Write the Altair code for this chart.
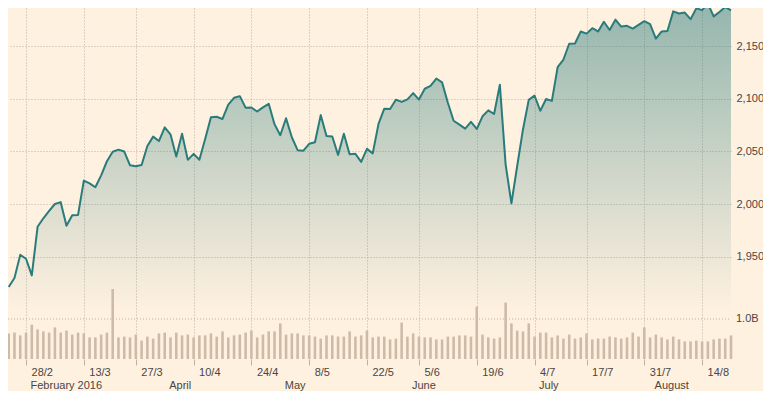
import json
import altair as alt
import pandas as pd

# ---- data (S&P 500 style index, trading days 23 Feb 2016 - 19 Aug 2016) ----
dates = [
    "2016-02-23", "2016-02-24", "2016-02-25", "2016-02-26", "2016-02-29",
    "2016-03-01", "2016-03-02", "2016-03-03", "2016-03-04", "2016-03-07",
    "2016-03-08", "2016-03-09", "2016-03-10", "2016-03-11", "2016-03-14",
    "2016-03-15", "2016-03-16", "2016-03-17", "2016-03-18", "2016-03-21",
    "2016-03-22", "2016-03-23", "2016-03-24", "2016-03-28", "2016-03-29",
    "2016-03-30", "2016-03-31", "2016-04-01", "2016-04-04", "2016-04-05",
    "2016-04-06", "2016-04-07", "2016-04-08", "2016-04-11", "2016-04-12",
    "2016-04-13", "2016-04-14", "2016-04-15", "2016-04-18", "2016-04-19",
    "2016-04-20", "2016-04-21", "2016-04-22", "2016-04-25", "2016-04-26",
    "2016-04-27", "2016-04-28", "2016-04-29", "2016-05-02", "2016-05-03",
    "2016-05-04", "2016-05-05", "2016-05-06", "2016-05-09", "2016-05-10",
    "2016-05-11", "2016-05-12", "2016-05-13", "2016-05-16", "2016-05-17",
    "2016-05-18", "2016-05-19", "2016-05-20", "2016-05-23", "2016-05-24",
    "2016-05-25", "2016-05-26", "2016-05-27", "2016-05-31", "2016-06-01",
    "2016-06-02", "2016-06-03", "2016-06-06", "2016-06-07", "2016-06-08",
    "2016-06-09", "2016-06-10", "2016-06-13", "2016-06-14", "2016-06-15",
    "2016-06-16", "2016-06-17", "2016-06-20", "2016-06-21", "2016-06-22",
    "2016-06-23", "2016-06-24", "2016-06-27", "2016-06-28", "2016-06-29",
    "2016-06-30", "2016-07-01", "2016-07-05", "2016-07-06", "2016-07-07",
    "2016-07-08", "2016-07-11", "2016-07-12", "2016-07-13", "2016-07-14",
    "2016-07-15", "2016-07-18", "2016-07-19", "2016-07-20", "2016-07-21",
    "2016-07-22", "2016-07-25", "2016-07-26", "2016-07-27", "2016-07-28",
    "2016-07-29", "2016-08-01", "2016-08-02", "2016-08-03", "2016-08-04",
    "2016-08-05", "2016-08-08", "2016-08-09", "2016-08-10", "2016-08-11",
    "2016-08-12", "2016-08-15", "2016-08-16", "2016-08-17", "2016-08-18",
    "2016-08-19",
]

close = [
    1921.27, 1929.80, 1951.70, 1948.05, 1932.23,
    1978.35, 1986.45, 1993.40, 1999.99, 2001.76,
    1979.26, 1989.26, 1989.57, 2022.19, 2019.64,
    2015.93, 2027.22, 2040.59, 2049.58, 2051.60,
    2049.80, 2036.71, 2035.94, 2037.05, 2055.01,
    2063.95, 2059.74, 2072.78, 2066.13, 2045.17,
    2066.66, 2041.91, 2047.60, 2041.99, 2061.72,
    2082.42, 2082.78, 2080.73, 2094.34, 2100.80,
    2102.40, 2091.48, 2091.58, 2087.79, 2091.70,
    2095.15, 2075.81, 2065.30, 2081.43, 2063.37,
    2051.12, 2050.63, 2057.14, 2058.69, 2084.39,
    2064.46, 2064.11, 2046.61, 2066.66, 2047.21,
    2047.63, 2040.04, 2052.32, 2048.04, 2076.06,
    2090.54, 2090.10, 2099.06, 2096.95, 2099.33,
    2105.26, 2099.13, 2109.41, 2112.13, 2119.12,
    2115.48, 2096.07, 2079.06, 2075.32, 2071.50,
    2077.99, 2071.22, 2083.25, 2088.90, 2085.45,
    2113.32, 2037.41, 2000.54, 2036.09, 2070.77,
    2098.86, 2102.95, 2088.55, 2099.73, 2097.90,
    2129.90, 2137.16, 2152.14, 2152.43, 2163.75,
    2161.74, 2166.89, 2163.78, 2173.02, 2165.17,
    2175.03, 2168.48, 2169.18, 2166.58, 2170.06,
    2173.60, 2170.84, 2157.03, 2163.79, 2164.25,
    2182.87, 2180.89, 2181.74, 2175.49, 2185.79,
    2184.05, 2190.15, 2178.15, 2182.22, 2187.02,
    2183.87,
]

volume_bn = [
    0.64, 0.66, 0.59, 0.66, 0.86, 0.74, 0.69, 0.66, 0.79, 0.66,
    0.71, 0.61, 0.66, 0.64, 0.54, 0.54, 0.61, 0.66, 1.75, 0.54,
    0.56, 0.54, 0.61, 0.46, 0.56, 0.51, 0.64, 0.66, 0.54, 0.66,
    0.59, 0.61, 0.54, 0.59, 0.59, 0.64, 0.56, 0.69, 0.54, 0.59,
    0.61, 0.66, 0.71, 0.54, 0.61, 0.69, 0.69, 0.89, 0.61, 0.64,
    0.64, 0.59, 0.59, 0.56, 0.51, 0.59, 0.59, 0.56, 0.56, 0.69,
    0.56, 0.59, 0.71, 0.54, 0.56, 0.56, 0.49, 0.51, 0.91, 0.56,
    0.64, 0.56, 0.54, 0.54, 0.49, 0.49, 0.56, 0.56, 0.59, 0.59,
    0.56, 1.31, 0.61, 0.54, 0.51, 0.54, 1.41, 0.89, 0.71, 0.69,
    0.89, 0.56, 0.66, 0.66, 0.54, 0.59, 0.51, 0.61, 0.51, 0.54,
    0.64, 0.49, 0.51, 0.51, 0.56, 0.54, 0.51, 0.54, 0.66, 0.56,
    0.79, 0.54, 0.61, 0.54, 0.49, 0.56, 0.49, 0.44, 0.44, 0.46,
    0.44, 0.44, 0.49, 0.51, 0.51, 0.59,
]

# x-axis ticks (placed on the last trading day on/before each Sunday)
tick_idx = [3, 13, 22, 32, 42, 52, 62, 71, 81, 91, 100, 110, 120]
tick_labels = ["28/2", "13/3", "27/3", "10/4", "24/4", "8/5", "22/5",
               "5/6", "19/6", "4/7", "17/7", "31/7", "14/8"]

month_idx = [3, 27, 47, 69, 91, 111]
month_labels = ["February 2016", "April", "May", "June", "July", "August"]

price_ticks = [1950, 2000, 2050, 2100, 2150]
vol_ref = [1.0e9]
vol_ref_label = ["1.0B"]

# ---- styling ----
BG = "#fff1e0"
LINE = "#2a7b7b"
BAR = "#cdbba8"
GRID = "#bdb1a4"
TEXT = "#4a4542"
FONT = "Liberation Sans"

W, H = 723, 351
TOTAL_W, TOTAL_H = 755, 383

df = pd.DataFrame({
    "i": list(range(len(close))),
    "date": dates,
    "close": close,
    "vol": [v * 1e9 for v in volume_bn],
})
months = pd.DataFrame({"i": month_idx, "label": month_labels})
vref = pd.DataFrame({"v": vol_ref, "t": vol_ref_label})

xscale = alt.Scale(domain=[-0.12, 125.0], nice=False, zero=False)
pscale = alt.Scale(domain=[1852.85, 2186.08], nice=False, zero=False)
vscale = alt.Scale(domain=[0, 8.775e9], nice=False, zero=False)

label_expr = "{}[indexof({}, datum.value)]".format(
    json.dumps(tick_labels).replace('"', "'"), json.dumps(tick_idx))

x_axis = alt.Axis(
    values=tick_idx, labelExpr=label_expr, orient="bottom",
    grid=True, gridDash=[1, 2], gridColor=GRID, gridWidth=1,
    domain=False, ticks=True, tickSize=6, tickColor=GRID,
    labelAlign="left", labelOffset=5, labelPadding=1, labelBaseline="top",
    labelFont=FONT, labelFontSize=11, labelColor=TEXT, title=None,
)
y_axis = alt.Axis(
    values=price_ticks, labelExpr="format(datum.value, ',')", orient="right",
    grid=True, gridDash=[1, 2], gridColor=GRID, gridWidth=1,
    domain=False, ticks=False, labelPadding=5,
    labelFont=FONT, labelFontSize=11, labelColor=TEXT, title=None,
)

X = alt.X("i:Q", scale=xscale, axis=x_axis)

grad = alt.Gradient(
    gradient="linear", x1=0, x2=0, y1=0, y2=1,
    stops=[
        alt.GradientStop(color="rgba(42,123,123,0.5)", offset=0),
        alt.GradientStop(color="rgba(42,123,123,0)", offset=1),
    ],
)

base = alt.Chart(df)

area = base.mark_area(color=grad).encode(
    x=X,
    y=alt.Y("close:Q", scale=pscale, axis=y_axis),
    y2=alt.datum(1897.5),
)

vgrid = alt.Chart(vref).mark_rule(
    color=GRID, strokeDash=[1, 2], strokeWidth=1
).encode(
    x=alt.value(0), x2=alt.value(W),
    y=alt.Y("v:Q", scale=vscale, axis=None),
)

bars = base.mark_rule(color=BAR, strokeWidth=2.6).encode(
    x=X,
    y=alt.Y("vol:Q", scale=vscale, axis=None),
    y2=alt.datum(0),
)

line = base.mark_line(color=LINE, strokeWidth=2, strokeJoin="round").encode(
    x=X,
    y=alt.Y("close:Q", scale=pscale, axis=None),
)

vtext = alt.Chart(vref).mark_text(
    align="left", baseline="middle", font=FONT, fontSize=11, color=TEXT
).encode(
    x=alt.value(W + 5),
    y=alt.Y("v:Q", scale=vscale, axis=None),
    text="t:N",
)

mtext = alt.Chart(months).mark_text(
    align="left", baseline="alphabetic", font=FONT, fontSize=11, color=TEXT, dx=4.5
).encode(
    x=X,
    y=alt.value(381),
    text="label:N",
)

chart = alt.layer(area, vgrid, bars, line, vtext, mtext).resolve_scale(
    y="independent"
).properties(
    width=W, height=H,
    autosize=alt.AutoSizeParams(type="none"),
    padding={"left": 0, "top": 0, "right": TOTAL_W - W, "bottom": TOTAL_H - H},
    background=BG,
).configure_view(stroke=None)

chart.save("out.html", embed_options={"renderer": "svg", "actions": False})
